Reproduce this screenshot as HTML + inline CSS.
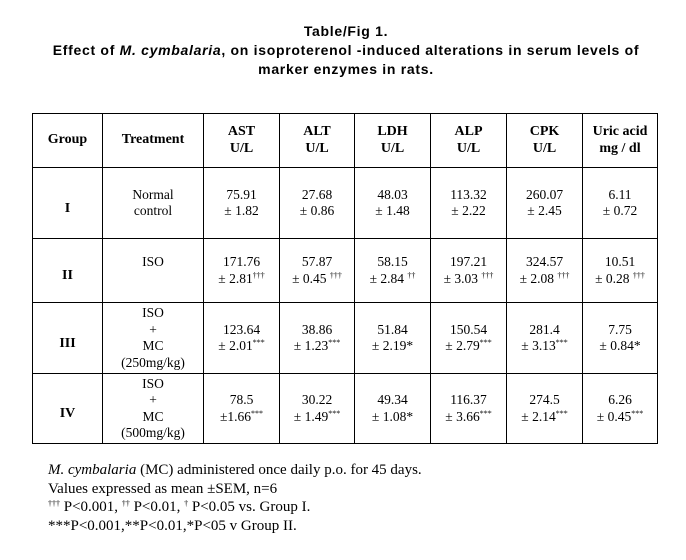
<!DOCTYPE html>
<html><head><meta charset="utf-8"><style>
body{margin:0;background:#fff;width:686px;height:560px;position:relative;overflow:hidden;font-family:"Liberation Serif",serif;color:#000}
.t{position:absolute;left:0;width:692px;text-align:center;font-family:"Liberation Sans",sans-serif;font-weight:bold;font-size:14px;letter-spacing:0.7px;line-height:19px;top:22px}
table{position:absolute;left:32px;top:113px;border-collapse:collapse;table-layout:fixed}
td{border:1px solid #000;text-align:center;vertical-align:middle;font-size:13.5px;line-height:16.5px;padding:0}
.h td{font-weight:bold;font-size:14px}
.g{font-weight:bold;font-size:14px;padding-top:12px}
sup{font-size:8px;vertical-align:5px;line-height:0}
.f{position:absolute;left:48px;top:461px;font-size:15px;line-height:18.5px}
</style></head><body>
<div class="t">Table/Fig 1.<br>Effect of <i>M. cymbalaria</i>, on isoproterenol -induced alterations in serum levels of<br>marker enzymes in rats.</div>
<table>
<colgroup><col style="width:70px"><col style="width:101px"><col style="width:76px"><col style="width:75px"><col style="width:76px"><col style="width:76px"><col style="width:76px"><col style="width:75px"></colgroup>
<tr class="h" style="height:54px"><td>Group</td><td>Treatment</td><td>AST<br>U/L</td><td>ALT<br>U/L</td><td>LDH<br>U/L</td><td>ALP<br>U/L</td><td>CPK<br>U/L</td><td>Uric acid<br>mg / dl</td></tr>
<tr style="height:71px"><td class="g">I</td><td>Normal<br>control</td><td>75.91<br>± 1.82</td><td>27.68<br>± 0.86</td><td>48.03<br>± 1.48</td><td>113.32<br>± 2.22</td><td>260.07<br>± 2.45</td><td>6.11<br>± 0.72</td></tr>
<tr style="height:64px"><td class="g">II</td><td>ISO<br>&nbsp;</td><td>171.76<br>± 2.81<sup>†††</sup></td><td>57.87<br>± 0.45 <sup>†††</sup></td><td>58.15<br>± 2.84 <sup>††</sup></td><td>197.21<br>± 3.03 <sup>†††</sup></td><td>324.57<br>± 2.08 <sup>†††</sup></td><td>10.51<br>± 0.28 <sup>†††</sup></td></tr>
<tr style="height:71px"><td class="g">III</td><td>ISO<br>+<br>MC<br>(250mg/kg)</td><td>123.64<br>± 2.01<sup>***</sup></td><td>38.86<br>± 1.23<sup>***</sup></td><td>51.84<br>± 2.19*</td><td>150.54<br>± 2.79<sup>***</sup></td><td>281.4<br>± 3.13<sup>***</sup></td><td>7.75<br>± 0.84*</td></tr>
<tr style="height:70px"><td class="g">IV</td><td>ISO<br>+<br>MC<br>(500mg/kg)</td><td>78.5<br>±1.66<sup>***</sup></td><td>30.22<br>± 1.49<sup>***</sup></td><td>49.34<br>± 1.08*</td><td>116.37<br>± 3.66<sup>***</sup></td><td>274.5<br>± 2.14<sup>***</sup></td><td>6.26<br>± 0.45<sup>***</sup></td></tr>
</table>
<div class="f"><i>M. cymbalaria</i> (MC) administered once daily p.o. for 45 days.<br>Values expressed as mean ±SEM, n=6<br><sup>†††</sup> P&lt;0.001, <sup>††</sup> P&lt;0.01, <sup>†</sup> P&lt;0.05 vs. Group I.<br>***P&lt;0.001,**P&lt;0.01,*P&lt;05 v Group II.</div>
</body></html>
